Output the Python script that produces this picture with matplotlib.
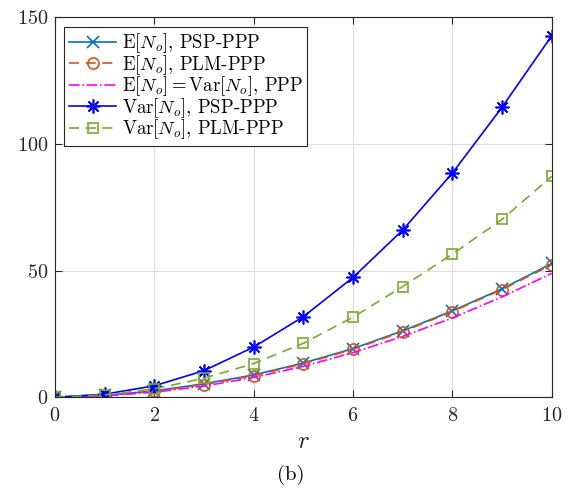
import numpy as np
import matplotlib.pyplot as plt

plt.rcParams['font.family'] = 'cmr10'
plt.rcParams['mathtext.fontset'] = 'cm'
plt.rcParams['axes.unicode_minus'] = False
plt.rcParams['axes.formatter.use_mathtext'] = True

# values
r = [0, 1, 2, 3, 4, 5, 6, 7, 8, 9, 10]
mean_psp = [0, 0.7, 2.5, 5.3, 8.8, 13.5, 19.2, 26.2, 34.1, 42.8, 52.8]
mean_plm = [0, 0.6, 2.3, 5.0, 8.5, 13.2, 18.9, 25.9, 33.8, 42.5, 52.3]
mean_ppp = [0, 0.5, 2.0, 4.4, 7.8, 12.2, 17.6, 24.0, 31.3, 39.6, 48.9]
var_psp = [0, 1.2, 4.5, 10.5, 19.8, 31.8, 47.3, 66.0, 88.5, 114.5, 142.7]
var_plm = [0, 0.9, 3.3, 7.5, 13.3, 21.3, 31.6, 43.7, 56.5, 70.2, 87.2]

fig = plt.figure(figsize=(5.79, 4.91), dpi=100)
ax = fig.add_axes([0.095, 0.191, 0.858, 0.774])

lw = 1.2
ax.plot(r, mean_psp, '-', color='#0072BD', lw=lw, marker='x', ms=8, mew=1.2,
        label=r'$\mathrm{E}[N_o]$, PSP-PPP')
ax.plot(r, mean_plm, '--', color='#D95319', lw=lw, marker='o', ms=8, mfc='none', mew=1.2,
        dashes=(6, 4), label=r'$\mathrm{E}[N_o]$, PLM-PPP')
ax.plot(r, mean_ppp, '-.', color='#FF00FF', lw=lw,
        label=r'$\mathrm{E}[N_o]=\mathrm{Var}[N_o]$, PPP')
ax.plot(r, var_psp, '-', color='#0000FF', lw=lw, marker=(8, 2, 0), ms=10, mew=1.2,
        label=r'$\mathrm{Var}[N_o]$, PSP-PPP')
ax.plot(r, var_plm, '--', color='#77AC30', lw=lw, marker='s', ms=7, mfc='none', mew=1.2,
        dashes=(6, 4), label=r'$\mathrm{Var}[N_o]$, PLM-PPP')

ax.set_xlim(0, 10)
ax.set_ylim(0, 150)
ax.set_xticks([0, 2, 4, 6, 8, 10])
ax.set_yticks([0, 50, 100, 150])
ax.grid(True, color='#dcdcdc', lw=0.8)
ax.set_axisbelow(True)
ax.tick_params(direction='in', top=True, right=True, labelsize=14.5, length=5,
               color='#262626', labelcolor='#262626')
ax.tick_params(axis='x', pad=7)
ax.tick_params(axis='y', pad=5)
for s in ax.spines.values():
    s.set_color('#262626')
    s.set_linewidth(0.8)

ax.set_xlabel(r'$r$', fontsize=18, labelpad=4, color='#262626')
fig.text(0.502, 0.033, '(b)', fontsize=15, ha='center', va='center')

leg = ax.legend(loc='upper left', fontsize=13.5, fancybox=False, framealpha=1,
                edgecolor='#262626', borderaxespad=0.5, handlelength=2.5,
                labelspacing=-0.12, borderpad=0.25, handletextpad=0.3)
leg.get_frame().set_linewidth(0.8)

fig.savefig('out.png', dpi=100)
